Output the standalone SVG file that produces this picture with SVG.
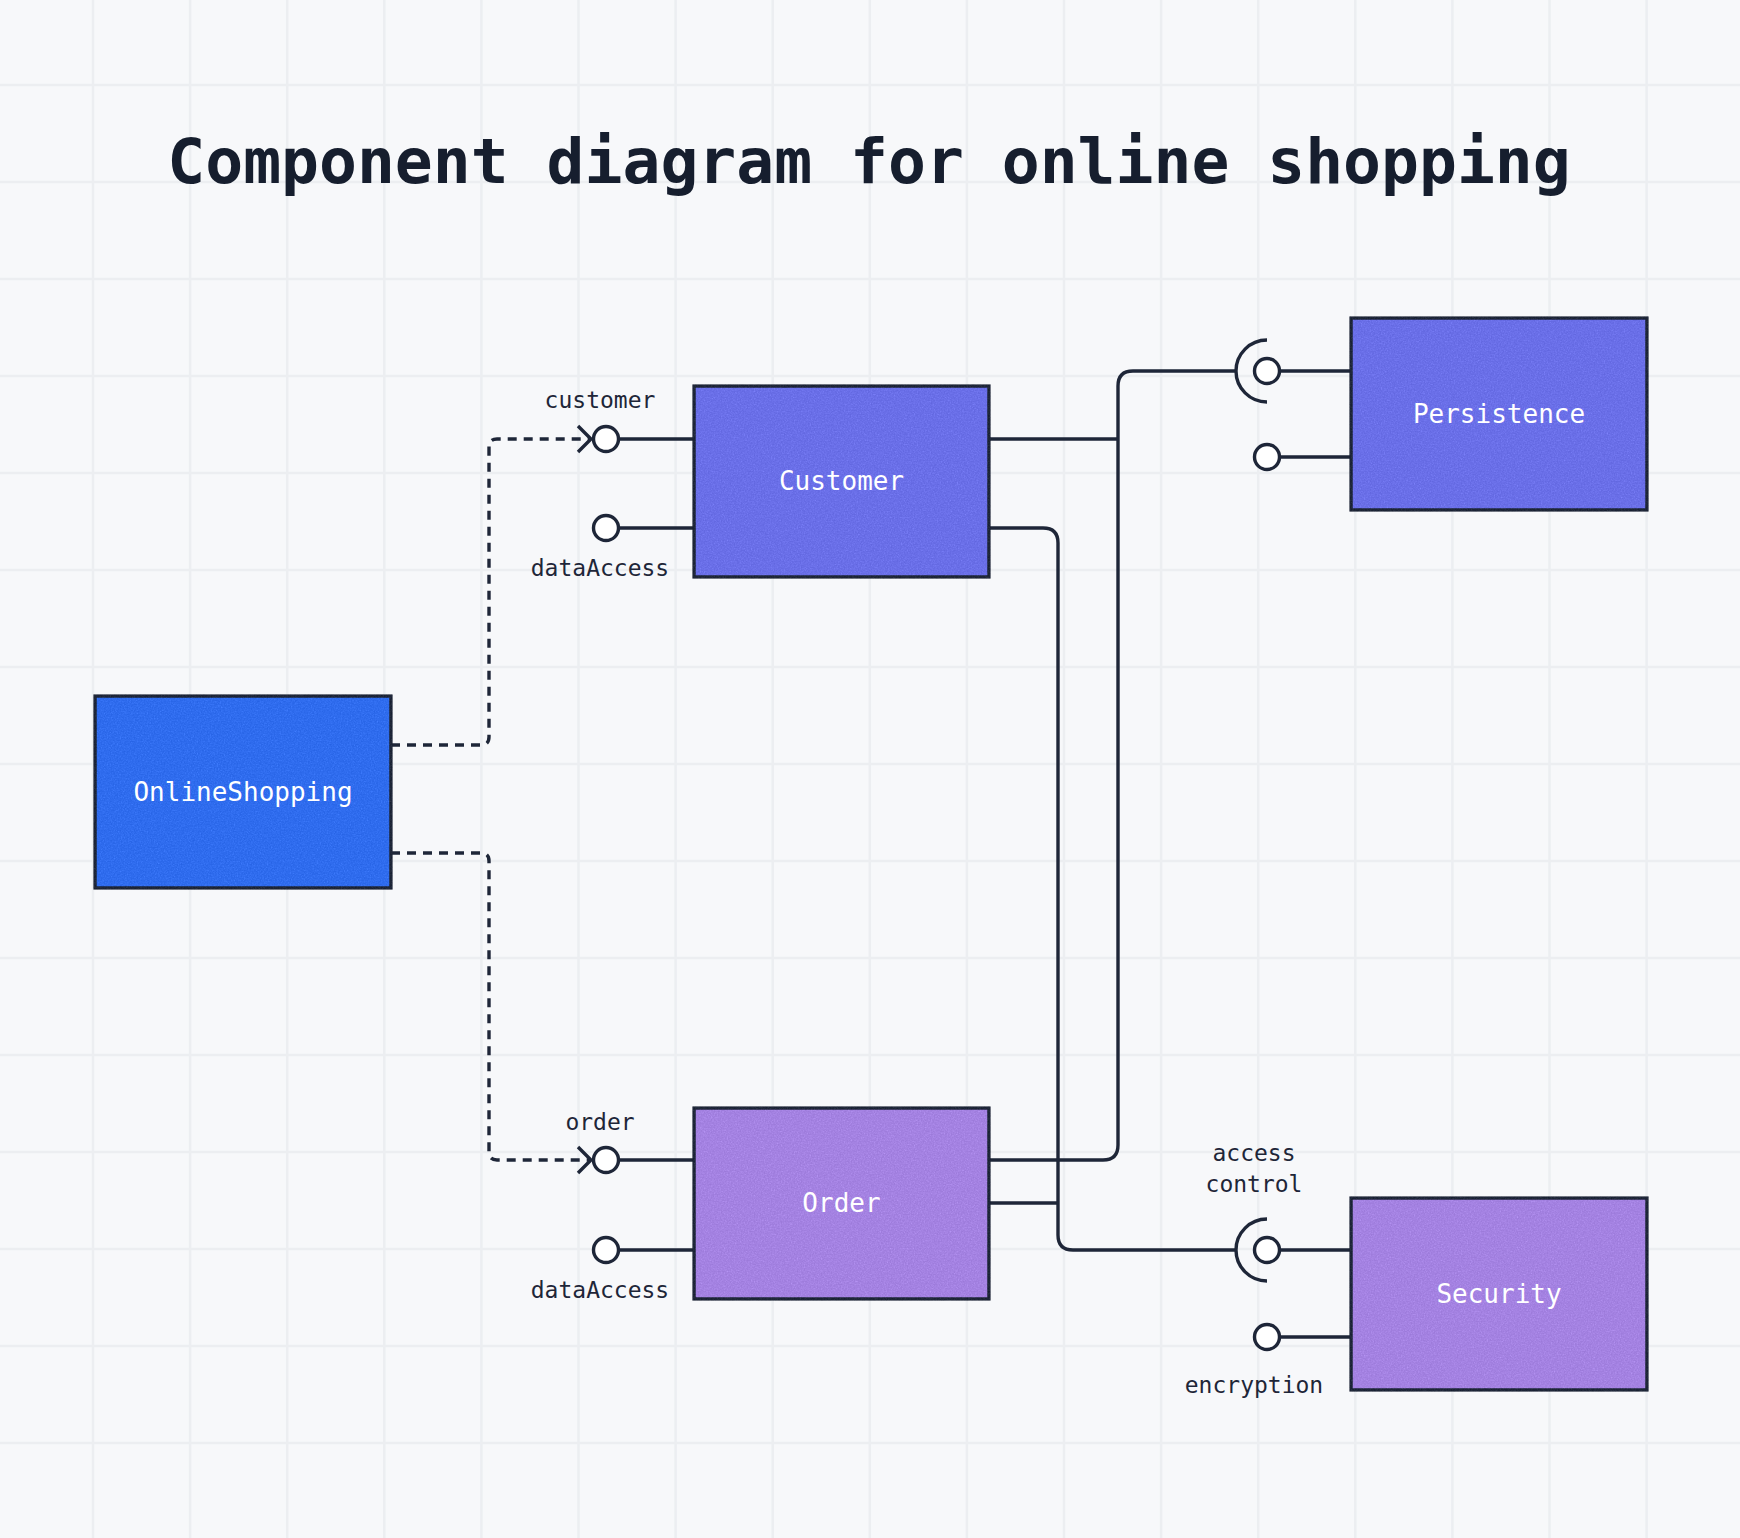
<svg xmlns="http://www.w3.org/2000/svg" width="1740" height="1538" viewBox="0 0 1740 1538">
  <style>
    .grid { stroke: #eceef1; stroke-width: 2.5; fill: none; }
    .box { stroke: #1e2638; stroke-width: 3.5; }
    .blue { fill: #2f6cee; }
    .indigo { fill: #6a6fe8; }
    .lilac { fill: #a482e2; }
    .line { stroke: #1e2638; stroke-width: 3.4; fill: none; }
    .dash { stroke: #1e2638; stroke-width: 3.4; fill: none; stroke-dasharray: 9 7; }
    .port { fill: #ffffff; stroke: #1e2638; stroke-width: 3.4; }
    .title { font-family: "DejaVu Sans Mono", "Liberation Mono", monospace; font-weight: bold; font-size: 63px; fill: #161e2e; }
    .nlabel { font-family: "DejaVu Sans Mono", "Liberation Mono", monospace; font-size: 26px; fill: #ffffff; text-anchor: middle; }
    .plabel { font-family: "DejaVu Sans Mono", "Liberation Mono", monospace; font-size: 23px; fill: #1e2638; text-anchor: middle; }
  </style>
  <defs>
    <filter id="grain" x="-3%" y="-3%" width="106%" height="106%" color-interpolation-filters="sRGB">
      <feTurbulence type="fractalNoise" baseFrequency="0.7" numOctaves="2" seed="4" result="n"/>
      <feColorMatrix in="n" type="saturate" values="0" result="gn"/>
      <feComposite in="SourceGraphic" in2="gn" operator="arithmetic" k1="0" k2="1" k3="0.2" k4="-0.05" result="c"/>
      <feComposite in="c" in2="SourceGraphic" operator="in"/>
    </filter>
  </defs>

  <rect x="0" y="0" width="1740" height="1538" fill="#f7f8fa"/>
  <g id="grid">
    <path class="grid" d="M93 0V1538M190.1 0V1538M287.2 0V1538M384.3 0V1538M481.4 0V1538M578.5 0V1538M675.6 0V1538M772.7 0V1538M869.8 0V1538M966.9 0V1538M1064 0V1538M1161.1 0V1538M1258.2 0V1538M1355.3 0V1538M1452.4 0V1538M1549.5 0V1538M1646.6 0V1538"/>
    <path class="grid" d="M0 85H1740M0 182H1740M0 279H1740M0 376H1740M0 473H1740M0 570H1740M0 667H1740M0 764H1740M0 861H1740M0 958H1740M0 1055H1740M0 1152H1740M0 1249H1740M0 1346H1740M0 1443H1740"/>
  </g>

  <text class="title" x="869" y="183" text-anchor="middle">Component diagram for online shopping</text>

  <g id="connectors">
    <path class="dash" d="M391 745H481Q489 745 489 737V447Q489 439 497 439H589"/>
    <path class="line" d="M578 426L591 439L578 452"/>
    <path class="dash" d="M391 853H481Q489 853 489 861V1152Q489 1160 497 1160H589"/>
    <path class="line" d="M578 1147L591 1160L578 1173"/>
    <path class="line" d="M989 1160H1103Q1118 1160 1118 1145V386Q1118 371 1133 371H1236"/>
    <path class="line" d="M989 439H1118"/>
    <path class="line" d="M989 528H1043Q1058 528 1058 543V1235Q1058 1250 1073 1250H1236"/>
    <path class="line" d="M989 1203H1058"/>
    <path class="line" d="M1267 340A31 31 0 0 0 1267 402"/>
    <path class="line" d="M1267 1219A31 31 0 0 0 1267 1281"/>
  </g>

  <g id="node-onlineshopping">
    <rect class="box blue" x="95" y="696" width="296" height="192" filter="url(#grain)"/>
    <text class="nlabel" x="243" y="801">OnlineShopping</text>
  </g>

  <g id="node-customer">
    <path class="line" d="M618.5 439H694M618.5 528H694"/>
    <circle class="port" cx="606" cy="439" r="12.5"/>
    <circle class="port" cx="606" cy="528" r="12.5"/>
    <text class="plabel" x="600" y="408">customer</text>
    <text class="plabel" x="600" y="576">dataAccess</text>
    <rect class="box indigo" x="694" y="386" width="295" height="191" filter="url(#grain)"/>
    <text class="nlabel" x="841.5" y="490">Customer</text>
  </g>

  <g id="node-order">
    <path class="line" d="M618.5 1160H694M618.5 1250H694"/>
    <circle class="port" cx="606" cy="1160" r="12.5"/>
    <circle class="port" cx="606" cy="1250" r="12.5"/>
    <text class="plabel" x="600" y="1130">order</text>
    <text class="plabel" x="600" y="1298">dataAccess</text>
    <rect class="box lilac" x="694" y="1108" width="295" height="191" filter="url(#grain)"/>
    <text class="nlabel" x="841.5" y="1212">Order</text>
  </g>

  <g id="node-persistence">
    <path class="line" d="M1279.5 371H1351M1279.5 457H1351"/>
    <circle class="port" cx="1267" cy="371" r="12.5"/>
    <circle class="port" cx="1267" cy="457" r="12.5"/>
    <rect class="box indigo" x="1351" y="318" width="296" height="192" filter="url(#grain)"/>
    <text class="nlabel" x="1499" y="423">Persistence</text>
  </g>

  <g id="node-security">
    <path class="line" d="M1279.5 1250H1351M1279.5 1337H1351"/>
    <circle class="port" cx="1267" cy="1250" r="12.5"/>
    <circle class="port" cx="1267" cy="1337" r="12.5"/>
    <text class="plabel" x="1254" y="1161">access</text>
    <text class="plabel" x="1254" y="1192">control</text>
    <text class="plabel" x="1254" y="1393">encryption</text>
    <rect class="box lilac" x="1351" y="1198" width="296" height="192" filter="url(#grain)"/>
    <text class="nlabel" x="1499" y="1303">Security</text>
  </g>
</svg>
